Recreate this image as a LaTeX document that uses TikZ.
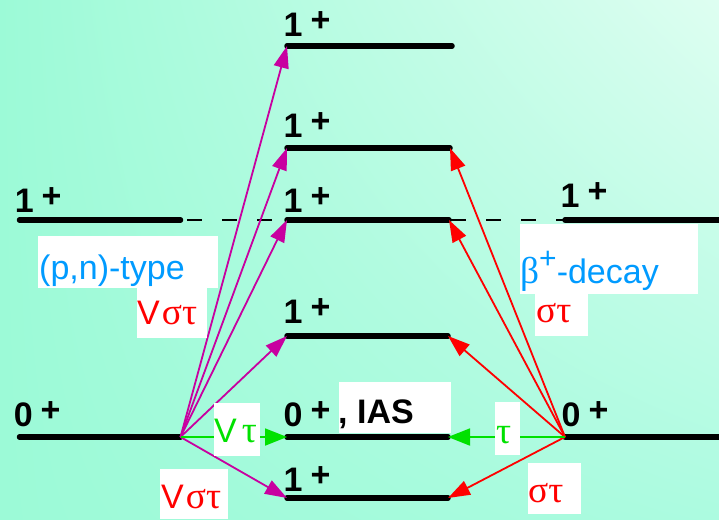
\documentclass[tikz,border=0pt]{standalone}
\usepackage{fontspec}
\setmainfont{Liberation Sans}
\newfontfamily\grk[Scale=1.1]{Liberation Serif}
\usetikzlibrary{arrows.meta,shadings}

\definecolor{bgdark}{RGB}{156,250,215}
\definecolor{bgmid}{RGB}{172,251,224}
\definecolor{bglight}{RGB}{222,254,241}
\definecolor{pnmag}{RGB}{200,0,160}
\definecolor{decred}{RGB}{255,0,0}
\definecolor{isogrn}{RGB}{0,225,0}
\definecolor{typblue}{RGB}{0,155,255}

\newcommand{\spin}[1]{#1\hspace{8pt}\raisebox{5pt}{+}}

\tikzset{
  level/.style={line width=5.5pt, line cap=round},
  dashline/.style={line width=2pt, dash pattern=on 15pt off 20pt},
  gtpn/.style={line width=1.8pt, pnmag, -{Triangle[length=22pt,width=15pt]}},
  gtdec/.style={line width=1.8pt, decred, -{Triangle[length=22pt,width=15pt]}},
  fermi/.style={line width=1.8pt, isogrn, -{Triangle[length=22pt,width=17pt]}},
  spinlbl/.style={anchor=base west, inner sep=0pt, font=\fontsize{34}{36}\selectfont\bfseries},
  txtlbl/.style={anchor=base west, inner sep=0pt, font=\fontsize{34}{36}\selectfont},
}

\begin{document}
\begin{tikzpicture}[x=1pt,y=-1pt]
    % 背景
    \useasboundingbox (0,0) rectangle (719,519);
    \shade[upper left=bgdark, upper right=bglight, lower left=bgdark, lower right=bgmid]
      (0,0) rectangle (719,519);

    % 左側の準位
    \coordinate (A1s) at (19.5,220); \coordinate (A1e) at (180.5,220);
    \coordinate (A0s) at (19.5,437); \coordinate (A0e) at (180.5,437);

    % 中央の準位
    \coordinate (B1s) at (287,46);  \coordinate (B1e) at (452,46);
    \coordinate (B2s) at (287,148); \coordinate (B2e) at (450,148);
    \coordinate (B3s) at (287,220); \coordinate (B3e) at (449,220);
    \coordinate (B4s) at (287,336); \coordinate (B4e) at (448,336);
    \coordinate (B5s) at (287,437); \coordinate (B5e) at (448,437);
    \coordinate (B6s) at (287,498); \coordinate (B6e) at (448,498);

    % 右側の準位
    \coordinate (C1s) at (565,220); \coordinate (C1e) at (722,220);
    \coordinate (C0s) at (565,437); \coordinate (C0e) at (722,437);

    % 破線
    \draw[dashline, shorten <=6.5pt] (A1e) -- (B3s);
    \draw[dashline, shorten <=2pt] (B3e) -- (C1s);

    % 準位の線
    \foreach \lv in {A1,A0,B1,B2,B3,B4,B5,B6,C1,C0} {
      \draw[level] (\lv s) -- (\lv e);
    }

    % 遷移の矢印
    \foreach \lv in {B1,B2,B3,B4,B6} {
      \draw[gtpn] (A0e) -- (\lv s);
    }
    \foreach \lv in {B2,B3,B4,B6} {
      \draw[gtdec] (C0s) -- (\lv e);
    }
    \draw[fermi] (A0e) -- (B5s);
    \draw[fermi] (C0s) -- (B5e);

    % 白い枠
    \fill[white] (38,236) rectangle (218,288);
    \fill[white] (137,288) rectangle (207,338);
    \fill[white] (214,403) rectangle (260,456);
    \fill[white] (160,469) rectangle (228,519);
    \fill[white] (339,382) rectangle (451,433);
    \fill[white] (520,224) rectangle (698,294);
    \fill[white] (535,294) rectangle (588,336);
    \fill[white] (495,402) rectangle (520,455);
    \fill[white] (528,463) rectangle (581,514);

    % スピン・パリティ
    \node[spinlbl] (jA1) at (14.6,212) {\spin{1}};
    \node[spinlbl] (jA0) at (13.6,426) {\spin{0}};
    \node[spinlbl] (jB1) at (283.5,37)  {\spin{1}};
    \node[spinlbl] (jB2) at (283.5,137) {\spin{1}};
    \node[spinlbl] (jB3) at (283.5,212) {\spin{1}};
    \node[spinlbl] (jB4) at (283.5,323) {\spin{1}};
    \node[spinlbl] (jB5) at (283.5,426) {\spin{0}};
    \node[spinlbl] (jB6) at (283.5,491) {\spin{1}};
    \node[spinlbl] (jC1) at (560.5,207) {\spin{1}};
    \node[spinlbl] (jC0) at (561.5,426) {\spin{0}};
    \node[spinlbl] (ias) at (338,423) {, IAS};

    % 説明の文字
    \node[txtlbl, typblue] (pntype) at (39,279) {(p,n)-type};
    \node[txtlbl, typblue] (bdecay) at (520,283)
      {{\grk β}\raisebox{15pt}{\fontsize{30}{30}\selectfont+}-decay};
    \node[txtlbl, decred] (opA) at (137,324) {V\hspace{2pt}{\grk στ}};
    \node[txtlbl, decred] (opB) at (161,508) {V\hspace{2pt}{\grk στ}};
    \node[txtlbl, isogrn] (opC) at (214,442) {V\hspace{5pt}{\grk τ}};
    \node[txtlbl, decred] (opD) at (536,322) {{\grk στ}};
    \node[txtlbl, decred] (opE) at (528,502) {{\grk στ}};
    \node[txtlbl, isogrn] (opF) at (496,443) {{\grk τ}};
\end{tikzpicture}
\end{document}
